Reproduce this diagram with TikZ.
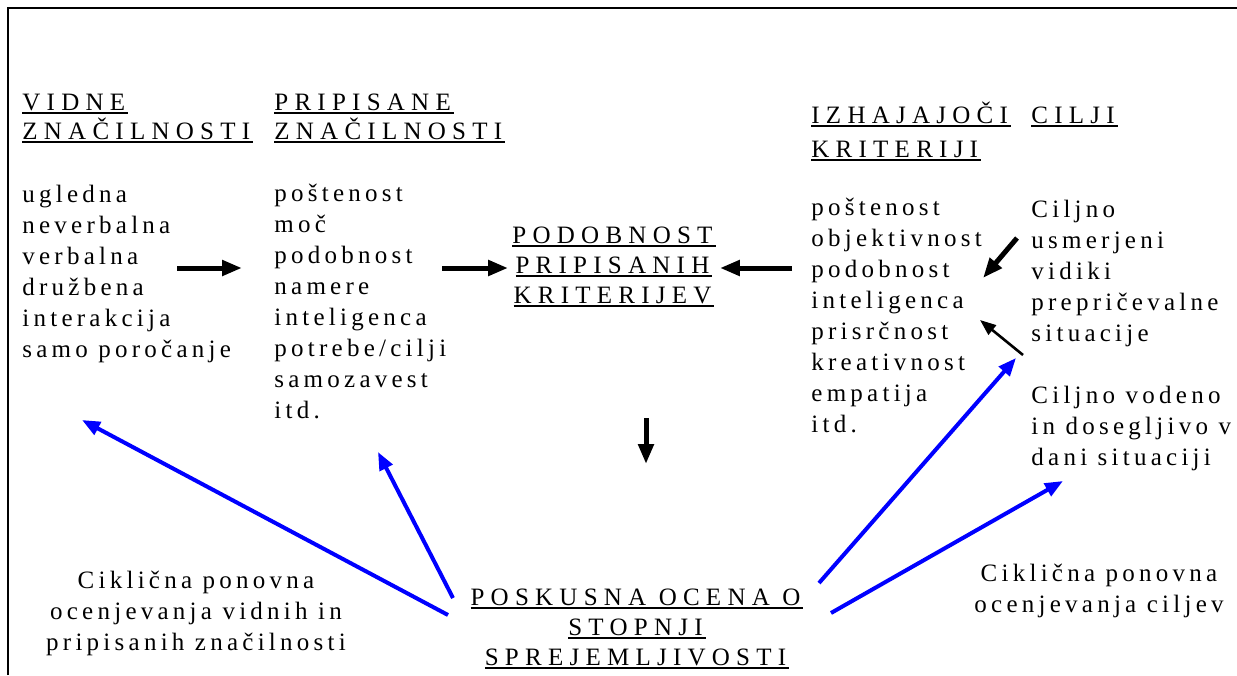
\documentclass[tikz,border=0pt]{standalone}
\usepackage{fontspec}
\setmainfont{Liberation Serif}[LetterSpace=17]
\newfontfamily\capsfont{Liberation Serif}[LetterSpace=25]
\usetikzlibrary{arrows.meta,positioning}
\definecolor{cycle}{RGB}{0,0,255}
\newsavebox{\hdrbox}
\newcommand{\hdr}[1]{\sbox{\hdrbox}{#1\hspace{0.12em}}\rlap{\rule[-1.8pt]{\wd\hdrbox}{0.9pt}}\usebox{\hdrbox}}
\tikzset{
  frame/.style={draw=black, line width=1pt},
  head/.style={align=left, inner sep=0pt, font=\capsfont\fontsize{12.5}{14.5}\selectfont},
  chead/.style={align=center, inner sep=0pt, inner xsep=2pt, font=\capsfont\fontsize{12.5}{15}\selectfont},
  items/.style={align=left, inner sep=0pt, font=\fontsize{12.5}{15.5}\selectfont},
  note/.style={align=center, inner sep=0pt, font=\fontsize{12.5}{15.5}\selectfont},
  flow/.style={draw=black, line width=2.5pt, -{Triangle[length=10pt,width=7.5pt]}},
  thinflow/.style={draw=black, line width=1.3pt, -{Triangle[length=8pt,width=6pt]}},
  back/.style={draw=cycle, line width=2pt, -{Triangle[length=9pt,width=7pt]}}
}
\begin{document}
\begin{tikzpicture}[x=0.5pt, y=-0.5pt]
  \useasboundingbox (0,0) rectangle (1237,675);
  \draw[frame] (8,675) -- (8,8) -- (1237,8);

  % naslovi (base = zadnja vrstica)
  \node[head, anchor=base west] (vidh) at (22,139) {\hdr{VIDNE}\\\hdr{ZNAČILNOSTI}};
  \node[head, anchor=base west] (prih) at (274,139) {\hdr{PRIPISANE}\\\hdr{ZNAČILNOSTI}};
  \node[head, anchor=base west, font=\capsfont\fontsize{12.5}{17}\selectfont] (izhh) at (811,157) {\hdr{IZHAJAJOČI}\\\hdr{KRITERIJI}};
  \node[head, anchor=base west] (cilh) at (1031,123) {\hdr{CILJI}};

  % seznami
  \node[items, anchor=base west] (vidl) at (22,357)
    {ugledna\\neverbalna\\verbalna\\družbena\\interakcija\\samo poročanje};
  \node[items, anchor=base west] (pril) at (274,418)
    {poštenost\\moč\\podobnost\\namere\\inteligenca\\potrebe/cilji\\samozavest\\itd.};
  \node[items, anchor=base west] (izhl) at (811,432)
    {poštenost\\objektivnost\\podobnost\\inteligenca\\prisrčnost\\kreativnost\\empatija\\itd.};
  \node[items, anchor=base west] (cil1) at (1031,341)
    {Ciljno\\usmerjeni\\vidiki\\prepričevalne\\situacije};
  \node[items, anchor=base west] (cil2) at (1031,465)
    {Ciljno vodeno\\in dosegljivo v\\dani situaciji};

  % sredina
  \node[chead, anchor=base] (pod) at (614,303) {\hdr{PODOBNOST}\\\hdr{PRIPISANIH}\\\hdr{KRITERIJEV}};
  \node[chead, anchor=base] (pos) at (637,665) {\hdr{POSKUSNA OCENA O}\\\hdr{STOPNJI}\\\hdr{SPREJEMLJIVOSTI}};

  % opombe
  \node[note, anchor=base] (cikl) at (196,650) {Ciklična ponovna\\ocenjevanja vidnih in\\pripisanih značilnosti};
  \node[note, anchor=base] (cikr) at (1099,612) {Ciklična ponovna\\ocenjevanja ciljev};

  % puščice
  \coordinate (a1) at (177,268);
  \coordinate (a1e) at (242,268);
  \coordinate (a2) at (442,268);
  \coordinate (a3) at (792,268);
  \coordinate (d1) at (646,418);
  \coordinate (d2) at (646,464);
  \coordinate (k1) at (1017,238);
  \coordinate (k2) at (983,278);
  \coordinate (s1) at (1023,355);
  \coordinate (s2) at (980,320);
  \draw[flow] (a1) -- (a1e);
  \draw[flow] (a2) -- (pod.west |- a2);
  \draw[flow] (a3) -- (pod.east |- a3);
  \draw[flow] (d1) -- (d2);
  \draw[flow] (k1) -- (k2);
  \draw[thinflow] (s1) -- (s2);

  \coordinate (b1) at (448,615);
  \coordinate (b2) at (453,598);
  \coordinate (b3) at (819,583);
  \coordinate (b4) at (831,613);
  \coordinate (e1) at (82,420);
  \coordinate (e2) at (378,452);
  \coordinate (e3) at (1016,358);
  \coordinate (e4) at (1063,481);
  \draw[back] (b1) -- (e1);
  \draw[back] (b2) -- (e2);
  \draw[back] (b3) -- (e3);
  \draw[back] (b4) -- (e4);
\end{tikzpicture}
\end{document}
